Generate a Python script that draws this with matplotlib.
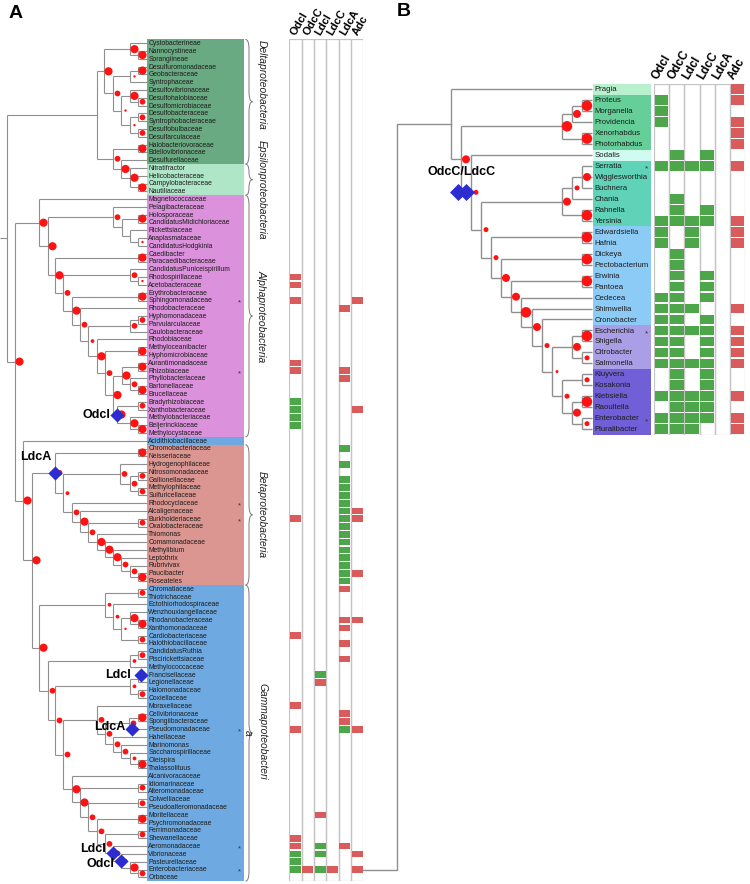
import re
import matplotlib
matplotlib.use("Agg")
import matplotlib.pyplot as plt
from matplotlib.collections import LineCollection
from matplotlib.path import Path
from matplotlib.patches import PathPatch

plt.rcParams["font.family"] = ["Liberation Sans", "DejaVu Sans"]

# ---------------- data ----------------
genes = ["OdcI", "OdcC", "LdcI", "LdcC", "LdcA", "Adc"]

families_a = [
    "Cystobacterineae", "Nannocystineae", "Sorangiineae", "Desulfuromonadaceae",
    "Geobacteraceae", "Syntrophaceae", "Desulfovibrionaceae", "Desulfohalobiaceae",
    "Desulfomicrobiaceae", "Desulfobacteraceae", "Syntrophobacteraceae", "Desulfobulbaceae",
    "Desulfarculaceae", "Halobacteriovoraceae", "Bdellovibrionaceae", "Desulfurellaceae",
    "Nitratifractor", "Helicobacteraceae", "Campylobacteraceae", "Nautiliaceae",
    "Magnetococcaceae", "Pelagibacteraceae", "Holosporaceae", "CandidatusMidichloriaceae",
    "Rickettsiaceae", "Anaplasmataceae", "CandidatusHodgkinia", "Caedibacter",
    "Paracaedibacteraceae", "CandidatusPuniceispirillum", "Rhodospirillaceae", "Acetobacteraceae",
    "Erythrobacteraceae", "Sphingomonadaceae", "Rhodobacteraceae", "Hyphomonadaceae",
    "Parvularculaceae", "Caulobacteraceae", "Rhodobiaceae", "Methyloceanibacter",
    "Hyphomicrobiaceae", "Aurantimonadaceae", "Rhizobiaceae", "Phyllobacteriaceae",
    "Bartonellaceae", "Brucellaceae", "Bradyrhizobiaceae", "Xanthobacteraceae",
    "Methylobacteriaceae", "Beijerinckiaceae", "Methylocystaceae", "Acidithiobacillaceae",
    "Chromobacteriaceae", "Neisseriaceae", "Hydrogenophilaceae", "Nitrosomonadaceae",
    "Gallionellaceae", "Methylophilaceae", "Sulfuricellaceae", "Rhodocyclaceae",
    "Alcaligenaceae", "Burkholderiaceae", "Oxalobacteraceae", "Thiomonas",
    "Comamonadaceae", "Methylibium", "Leptothrix", "Rubrivivax",
    "Paucibacter", "Roseateles", "Chromatiaceae", "Thiotrichaceae",
    "Ectothiorhodospiraceae", "Wenzhouxiangellaceae", "Rhodanobacteraceae", "Xanthomonadaceae",
    "Cardiobacteriaceae", "Halothiobacillaceae", "CandidatusRuthia", "Piscirickettsiaceae",
    "Methylococcaceae", "Francisellaceae", "Legionellaceae", "Halomonadaceae",
    "Coxiellaceae", "Moraxellaceae", "Cellvibrionaceae", "Spongiibacteraceae",
    "Pseudomonadaceae", "Hahellaceae", "Marinomonas", "Saccharospirillaceae",
    "Oleispira", "Thalassolituus", "Alcanivoracaceae", "Idiomarinaceae",
    "Alteromonadaceae", "Colwelliaceae", "Pseudoalteromonadaceae", "Moritellaceae",
    "Psychromonadaceae", "Ferrimonadaceae", "Shewanellaceae", "Aeromonadaceae",
    "Vibrionaceae", "Pasteurellaceae", "Enterobacteriaceae", "Orbaceae",
]
stars_a = [34, 43, 60, 62, 89, 104, 107]

# class name, first row, last row
groups_a = [("Deltaproteobacteria", 1, 16), ("Epsilonproteobacteria", 17, 20),
            ("Alphaproteobacteria", 21, 51), ("", 52, 52),
            ("Betaproteobacteria", 53, 70), ("Gammaproteobacteri", 71, 108)]
group_colors_a = ["#69aa82", "#afe6c8", "#dc91dc", "#6eaae1", "#dc9691", "#6eaae1"]

# tree topology, leaves = row numbers, internal nodes "@depth/support-class"
delta_eps = ("(((1,(2,3)@138/4)@130/4,(((4,5)@138/4,6)@130/1,((7,(8,9)@138/3)@130/4,"
             "((10,11)@138/3,(12,13)@138/3)@130/1)@121/1)@113/3)@104/4,"
             "((14,15)@138/4,(16,(17,18,(19,20)@138/4)@130/4)@121/4)@113/3)@97/0")
alpha = ("(21,((22,((23,24)@138/4,(25,(26,27)@138/1)@130/0)@122/0)@113/3,"
         "((28,29)@138/4,((30,(31,32)@138/1)@130/3,((33,34)@138/4,(35,(((36,37)@138/3,38)@130/3,"
         "(39,((40,41)@138/4,(((42,43)@138/4,(44,(45,46)@138/4)@130/3)@122/4,"
         "((47,48)@138/3,(49,(50,51)@138/4)@130/4)@117/4)@113/4)@105/3)@97/4)@88/2)@80/3)@72/4)@63/3)@55/4)@48/4)@39/4")
beta = ("((53,54)@138/4,((55,((56,57)@138/3,(58,59)@138/3)@130/3)@120/3,"
        "(60,(61,((62,63)@138/3,(64,(65,(66,(67,(68,(69,70)@138/4)@130/3)@121/3)@113/4)@105/4)@97/4)@88/3)@80/4)@72/3)@63/2)@55/3")
gamma = ("(((71,72)@138/3,(73,((74,(75,76)@138/4)@130/4,(77,78)@138/3)@121/1)@113/2)@105/2,"
         "(((79,80)@138/3,81)@130/2,(((82,83)@138/1,(84,85)@138/3)@130/2,"
         "((86,(((87,88)@138/4,89)@129/3,(90,(91,(92,(93,94)@138/4)@130/2)@121/3)@113/3)@105/3)@97/3,"
         "(95,((96,97)@138/3,((98,99)@138/3,((100,101)@138/4,((102,103)@138/3,"
         "(104,(105,(106,(107,108)@138/3)@130/4)@121/2)@113/3)@105/3)@97/3)@88/3)@80/4)@72/4)@63/3)@55/3)@48/3)@39/4")
tree_a = "(%s,(%s,(52,(%s,%s)@32/4)@23/4)@15/4)@7/0" % (delta_eps, alpha, beta, gamma)

# gene events (label, first row, last row of the clade)
events_a = [("OdcI", 47, 51), ("LdcA", 53, 70), ("LdcI", 82, 82),
            ("LdcA", 89, 89), ("LdcI", 104, 108), ("OdcI", 105, 108)]

a_green = {
    "OdcI": [47, 48, 49, 50, 105, 106, 107],
    "OdcC": [],
    "LdcI": [82, 104, 105, 107],
    "LdcC": [],
    "LdcA": [53, 55, 57, 58, 59, 60, 61, 62, 63, 64, 65, 66, 67, 68, 69, 70, 89],
    "Adc": [],
}
a_red = {
    "OdcI": [31, 32, 34, 42, 43, 62, 77, 86, 89, 103, 104],
    "OdcC": [107],
    "LdcI": [83, 100],
    "LdcC": [107],
    "LdcA": [35, 43, 44, 71, 75, 76, 78, 80, 87, 88, 104],
    "Adc": [34, 48, 61, 62, 69, 75, 89, 105, 107],
}

genera_b = ["Pragia", "Proteus", "Morganella", "Providencia", "Xenorhabdus", "Photorhabdus",
            "Sodalis", "Serratia", "Wigglesworthia", "Buchnera", "Chania", "Rahnella",
            "Yersinia", "Edwardsiella", "Hafnia", "Dickeya", "Pectobacterium", "Erwinia",
            "Pantoea", "Cedecea", "Shimwellia", "Cronobacter", "Escherichia", "Shigella",
            "Citrobacter", "Salmonella", "Kluyvera", "Kosakonia", "Klebsiella", "Raoultella",
            "Enterobacter", "Pluralibacter"]
stars_b = [8, 23, 31]
groups_b = [(1, 1), (2, 6), (7, 7), (8, 13), (14, 22), (23, 26), (27, 32)]
group_colors_b = ["#b9f1cf", "#66cf99", "#d0fbf0", "#5fd2b8", "#8dcbf7", "#aa9fe6", "#705fd6"]

tree_b = ("(1,((((2,3)@582/4,4)@572/3,(5,6)@582/4)@562/4,"
          "(7,((((8,9,10)@582/3,11)@572/2,(12,13)@582/4)@562/3,"
          "((14,15)@582/4,((16,17)@582/4,((18,19)@582/4,(20,(21,(22,"
          "(((23,24)@582/4,(25,26)@582/2)@572/3,((27,28)@582/2,((29,30)@582/4,(31,32)@582/2)@572/3)@562/2)@552/1"
          ")@542/2)@532/3)@521/4)@511/3)@501/3)@491/2)@481/2)@471/2)@461/3)@451/0")
events_b = [("OdcC/LdcC", 7, 32)]

b_green = {
    "OdcI": [2, 3, 4, 8, 13, 14, 15, 20, 21, 22, 23, 24, 25, 26, 29, 31, 32],
    "OdcC": [7, 8, 11, 12, 13, 16, 17, 18, 19, 20, 21, 22, 23, 24, 25, 26, 27, 28, 29, 30, 31, 32],
    "LdcI": [8, 13, 14, 15, 21, 23, 26, 29, 30, 31, 32],
    "LdcC": [7, 8, 12, 13, 18, 19, 20, 22, 23, 24, 25, 26, 27, 28, 29, 30, 31],
    "LdcA": [],
    "Adc": [],
}
b_red = {
    "OdcI": [], "OdcC": [], "LdcI": [], "LdcC": [], "LdcA": [],
    "Adc": [1, 2, 4, 5, 6, 8, 13, 14, 15, 21, 23, 24, 25, 26, 29, 31, 32],
}

GREEN = "#4ea64b"
RED = "#d95b5b"
LINE = "#8f8f8f"
W, H = 750, 884


def parse(s):
    pos = 0

    def node():
        nonlocal pos
        if s[pos] == "(":
            pos += 1
            kids = [node()]
            while s[pos] == ",":
                pos += 1
                kids.append(node())
            pos += 1
            m = re.match(r"@([\d.]+)/([\d.]+)", s[pos:])
            pos += m.end()
            return {"kids": kids, "x": float(m.group(1)), "dot": int(m.group(2))}
        m = re.match(r"\d+", s[pos:])
        pos += m.end()
        return {"leaf": int(m.group())}
    return node()


def layout(nd, tip_x, parent=None):
    nd["parent"] = parent
    if "leaf" in nd:
        nd["x"], nd["y"] = tip_x, nd["leaf"]
        nd["lo"] = nd["hi"] = nd["leaf"]
        return
    for k in nd["kids"]:
        layout(k, tip_x, nd)
    nd["y"] = (nd["kids"][0]["y"] + nd["kids"][-1]["y"]) / 2
    nd["lo"], nd["hi"] = nd["kids"][0]["lo"], nd["kids"][-1]["hi"]


def all_nodes(nd):
    yield nd
    for k in nd.get("kids", []):
        yield from all_nodes(k)


def draw_tree(ax, newick, tip_x, stub_x, lw, dot_px, dot_dx):
    root = parse(newick)
    layout(root, tip_x)
    segs = []
    for nd in all_nodes(root):
        if "kids" not in nd:
            continue
        segs.append([(nd["x"], nd["kids"][0]["y"]), (nd["x"], nd["kids"][-1]["y"])])
        for k in nd["kids"]:
            segs.append([(nd["x"], k["y"]), (k["x"], k["y"])])
    if stub_x is not None:
        segs.append([(stub_x, root["y"]), (root["x"], root["y"])])
    ax.add_collection(LineCollection(segs, colors=LINE, linewidths=lw, capstyle="butt", zorder=2))
    dotted = [n for n in all_nodes(root) if n.get("dot", 0) > 0]
    ax.scatter([n["x"] + dot_dx for n in dotted], [n["y"] for n in dotted],
               s=[(dot_px[n["dot"]] * 0.72) ** 2 for n in dotted],
               color="#ff1212", linewidths=0, zorder=4)
    spans = {(n["lo"], n["hi"]): n for n in all_nodes(root)}
    return root, spans


def brace(ax, x, r0, r1, w, h):
    xm, ym = x + w / 2, (r0 + r1) / 2
    h = min(h, (r1 - r0) / 4)
    verts = [(x, r0), (xm, r0), (xm, r0 + h), (xm, ym - h), (xm, ym), (x + w, ym),
             (xm, ym), (xm, ym + h), (xm, r1 - h), (xm, r1), (x, r1)]
    C, L = Path.CURVE3, Path.LINETO
    codes = [Path.MOVETO, C, C, L, C, C, C, C, L, C, C]
    ax.add_patch(PathPatch(Path(verts, codes), fill=False, edgecolor="#7a7a7a", lw=0.7, clip_on=False))


def heatmap(ax, n_rows, green, red, bar_h, fs, head_dx):
    ax.bar(range(6), n_rows, bottom=0.5, width=1, fill=False, edgecolor="#c4c4c4", linewidth=0.9)
    for j, g in enumerate(genes):
        for rows, col in ((green[g], GREEN), (red[g], RED)):
            if rows:
                ax.bar([j] * len(rows), bar_h, bottom=[r - bar_h / 2 for r in rows],
                       width=0.9, color=col, linewidth=0)
        ax.annotate(g, (j, 0.5), xytext=(head_dx, 2), textcoords="offset pixels", rotation=60,
                    rotation_mode="anchor", ha="left", va="bottom", fontsize=fs,
                    fontweight="bold", annotation_clip=False)
    ax.set_xlim(-0.5, 5.5)
    ax.set_ylim(n_rows + 0.5, 0.5)


fig = plt.figure(figsize=(7.5, 8.84), dpi=100)


def px_axes(x0, y0, x1, y1):
    ax = fig.add_axes([x0 / W, 1 - y1 / H, (x1 - x0) / W, (y1 - y0) / H])
    ax.set_axis_off()
    return ax


# ---------------- panel A ----------------
axA = px_axes(0, 39.4, 280, 881.2)
axA.set_xlim(0, 280)
axA.set_ylim(108.5, 0.5)

row_colors = []
for (name, r0, r1), c in zip(groups_a, group_colors_a):
    row_colors += [c] * (r1 - r0 + 1)
rows_a = list(range(1, len(families_a) + 1))
axA.barh(rows_a, 97.3, left=146.7, height=1.0, color=row_colors, linewidth=0, zorder=1)
for r, name in zip(rows_a, families_a):
    axA.text(148.3, r + 0.05, name, fontsize=4.9, va="center", ha="left", color="#1c1c1c", zorder=3)
for r in stars_a:
    axA.text(239, r + 0.35, "*", fontsize=5.5, va="center", ha="center", color="#333333", zorder=3)

rootA, spansA = draw_tree(axA, tree_a, 146.7, 0, 0.8, {1: 2.4, 2: 3.8, 3: 5.8, 4: 8.2}, 4.5)

for name, r0, r1 in groups_a:
    if name:
        brace(axA, 245.5, r0 - 0.5, r1 + 0.5, 7, 1.3)
label_rows = [6.4, 19.8, 36.0, None, 61.4, 89.3]
for (name, r0, r1), yr in zip(groups_a, label_rows):
    if name:
        axA.text(262, yr, name, rotation=-90, fontsize=7.4, style="italic",
                 ha="center", va="center", color="#222222", clip_on=False)
axA.text(248, 89.45, "a", rotation=-90, fontsize=7.4, style="italic",
         ha="center", va="center", color="#222222")

label_offsets_a = [(-7, 0, "center"), (-4, 10, "bottom"), (-10, 0, "center"),
                   (-7, 2, "center"), (-7, 4, "center"), (-7, -3, "center")]
for (lab, lo, hi), (dx, dy, va) in zip(events_a, label_offsets_a):
    nd = spansA[(lo, hi)]
    x = nd["parent"]["x"] + 3 if lo == hi else nd["x"]
    axA.scatter([x], [nd["y"]], marker="D", s=52, color="#2c2cd0", linewidths=0, zorder=5)
    axA.annotate(lab, (x, nd["y"]), xytext=(dx, dy), textcoords="offset pixels",
                 ha="right", va=va, fontsize=9, fontweight="bold", zorder=6)

hmA = px_axes(289.3, 39.4, 363.3, 881.2)
heatmap(hmA, 108, a_green, a_red, 0.86, 8, 2)

# ---------------- panel B ----------------
axB = px_axes(380, 83.8, 652, 434.6)
axB.set_xlim(380, 652)
axB.set_ylim(32.5, 0.5)

row_colors_b = []
for (r0, r1), c in zip(groups_b, group_colors_b):
    row_colors_b += [c] * (r1 - r0 + 1)
rows_b = list(range(1, len(genera_b) + 1))
axB.barh(rows_b, 58, left=592.7, height=1.0, color=row_colors_b, linewidth=0, zorder=1)
for r, name in zip(rows_b, genera_b):
    axB.text(594.5, r + 0.05, name, fontsize=5.6, va="center", ha="left", color="#1c1c1c", zorder=3)
for r in stars_b:
    axB.text(646.5, r + 0.3, "*", fontsize=6, va="center", ha="center", color="#333333", zorder=3)

rootB, spansB = draw_tree(axB, tree_b, 591.7, None, 1.0, {1: 3.0, 2: 5.0, 3: 8.0, 4: 10.5}, 5)

for lab, lo, hi in events_b:
    nd = spansB[(lo, hi)]
    axB.scatter([nd["x"] - 13, nd["x"] - 5], [nd["y"], nd["y"]], marker="D", s=75,
                color="#2c2cd0", linewidths=0, zorder=5)
    axB.annotate(lab, (nd["x"] - 9, nd["y"]), xytext=(0, 14), textcoords="offset pixels",
                 ha="center", va="bottom", fontsize=9, fontweight="bold", zorder=6)

hmB = px_axes(654, 83.8, 745, 434.6)
heatmap(hmB, 32, b_green, b_red, 0.88, 8.5, -1)

# link from Enterobacteriaceae in A to the root of B
disp = hmA.transData.transform((5.5, families_a.index("Enterobacteriaceae") + 1))
xl, yl = axB.transData.inverted().transform(disp)
stub_x = 397.3
axB.plot([xl, stub_x, stub_x, rootB["x"]], [yl, yl, rootB["y"], rootB["y"]],
         color=LINE, lw=1.0, clip_on=False, zorder=2)

fig.text(16 / W, 1 - 13 / H, "A", fontsize=14, fontweight="bold", ha="center", va="center")
fig.text(404 / W, 1 - 12 / H, "B", fontsize=14, fontweight="bold", ha="center", va="center")

fig.savefig("out.png", dpi=100)
